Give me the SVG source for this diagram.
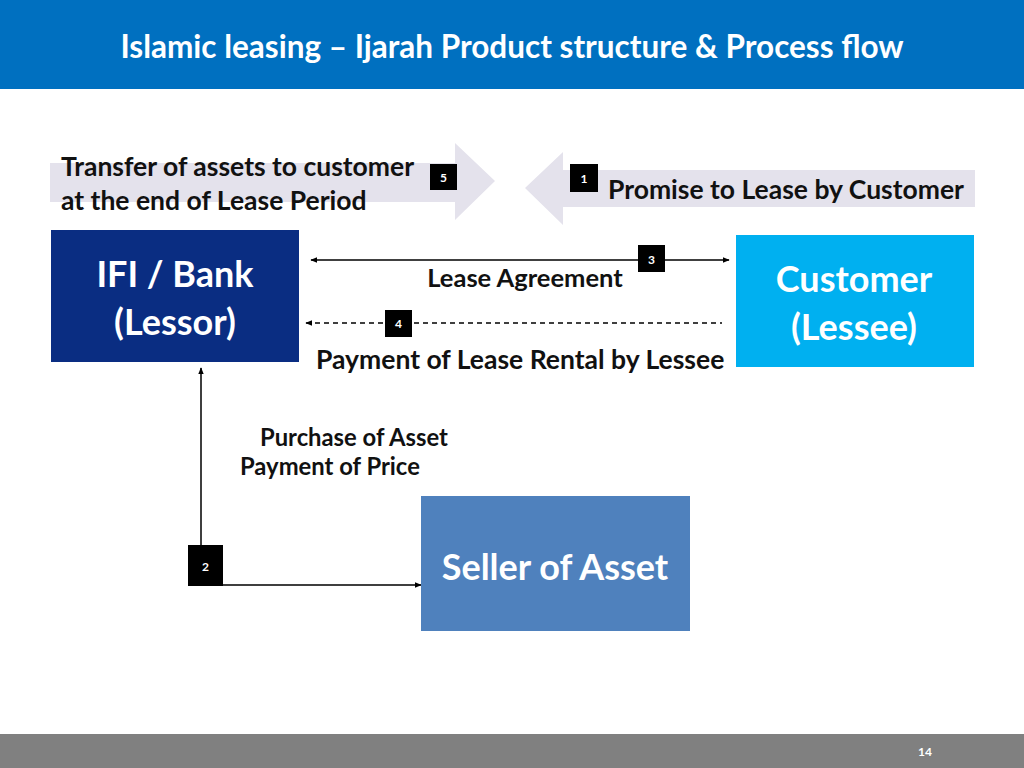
<svg xmlns="http://www.w3.org/2000/svg" width="1024" height="768" viewBox="0 0 1024 768">
<style>
text{font-family:Lato,"Open Sans","Liberation Sans",sans-serif;font-weight:bold}
.lbl{fill:#111;font-size:26.5px}
.node{fill:#fff;font-size:36px;text-anchor:middle}
.badge rect{fill:#000}
.badge text{fill:#fff;font-size:12px;text-anchor:middle}
.ln{stroke:#000;stroke-width:1.5;fill:none}
.bigarrow{fill:#E4E2EC}
</style>
<defs>
<marker id="ah" viewBox="0 0 10 10" refX="9" refY="5" markerWidth="7" markerHeight="7" orient="auto-start-reverse" markerUnits="userSpaceOnUse">
<path d="M0,1 L10,5 L0,9 Z" fill="#000"/>
</marker>
</defs>
<rect width="1024" height="768" fill="#fff"/>
<g id="header">
<rect x="0" y="0" width="1024" height="89" fill="#0070C0"/>
<text x="512" y="58" fill="#fff" font-size="31.5" text-anchor="middle">Islamic leasing – Ijarah Product structure &amp; Process flow</text>
</g>
<g id="step5-arrow">
<path class="bigarrow" d="M50,163 H455 V143 L495,181 L455,220 V202 H50 Z"/>
<text class="lbl" x="61" y="176">Transfer of assets to customer</text>
<text class="lbl" x="61" y="210">at the end of Lease Period</text>
<g class="badge"><rect x="430" y="164" width="27" height="26"/><text x="443.5" y="182">5</text></g>
</g>
<g id="step1-arrow">
<path class="bigarrow" d="M975,170 H563 V152 L525,188 L563,225 V207 H975 Z"/>
<text class="lbl" x="608" y="199">Promise to Lease by Customer</text>
<g class="badge"><rect x="570" y="164" width="28" height="28"/><text x="584" y="183">1</text></g>
</g>
<g id="connectors">
<line class="ln" x1="311" y1="260" x2="729" y2="260" marker-start="url(#ah)" marker-end="url(#ah)"/>
<line class="ln" x1="306" y1="323" x2="722" y2="323" stroke-dasharray="5,4" marker-start="url(#ah)"/>
<polyline class="ln" points="421,585 201,585 201,368" marker-start="url(#ah)" marker-end="url(#ah)"/>
</g>
<g id="bank">
<rect x="51" y="230" width="248" height="132" fill="#0A2D82"/>
<text class="node" x="175" y="287">IFI / Bank</text>
<text class="node" x="175" y="335">(Lessor)</text>
</g>
<g id="customer">
<rect x="736" y="235" width="238" height="132" fill="#00B0F0"/>
<text class="node" x="854" y="292">Customer</text>
<text class="node" x="854" y="340">(Lessee)</text>
</g>
<g id="seller">
<rect x="421" y="496" width="269" height="135" fill="#4F81BD"/>
<text class="node" x="555" y="580">Seller of Asset</text>
</g>
<g id="step3">
<text class="lbl" x="525" y="287" text-anchor="middle" style="font-size:25.5px">Lease Agreement</text>
<g class="badge"><rect x="638" y="245" width="27" height="27"/><text x="651.5" y="264">3</text></g>
</g>
<g id="step4">
<text class="lbl" x="316" y="369">Payment of Lease Rental by Lessee</text>
<g class="badge"><rect x="385" y="310" width="27" height="27"/><text x="398.5" y="328">4</text></g>
</g>
<g id="step2">
<text class="lbl" x="260" y="446" style="font-size:23.8px">Purchase of Asset</text>
<text class="lbl" x="240" y="475" style="font-size:23.8px">Payment of Price</text>
<g class="badge"><rect x="188" y="545" width="35" height="41"/><text x="205.5" y="571">2</text></g>
</g>
<g id="footer">
<rect x="0" y="734" width="1024" height="34" fill="#808080"/>
<text x="925" y="756" fill="#fff" font-size="12" text-anchor="middle">14</text>
</g>
</svg>
